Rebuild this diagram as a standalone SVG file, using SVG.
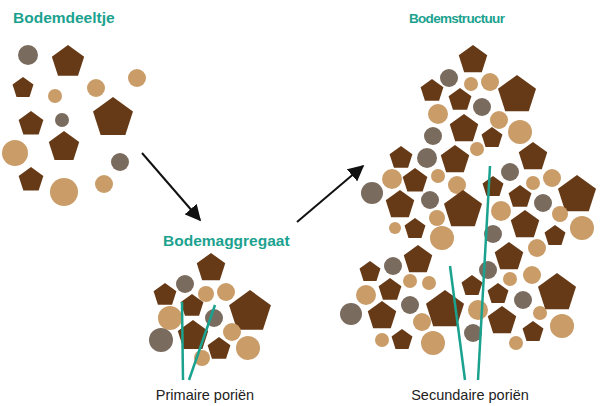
<svg xmlns="http://www.w3.org/2000/svg" xmlns:xlink="http://www.w3.org/1999/xlink" width="600" height="406" viewBox="0 0 600 406">
<style>
.d{fill:#663a16}.t{fill:#c99c68}.g{fill:#7a6b5f}
.h{font-family:"Liberation Sans",Arial,sans-serif;font-weight:bold;fill:#1ba28f}
.l{font-family:"Liberation Sans",Arial,sans-serif;font-size:14.5px;fill:#222;text-anchor:middle}
.p{stroke:#1ba28f;stroke-width:2.5;fill:none}
.a{stroke:#111;stroke-width:2}
</style>
<defs>
<path id="p" class="d" d="M0,-1L0.951,-0.309L0.588,0.809L-0.588,0.809L-0.951,-0.309Z"/>
<marker id="m" viewBox="0 0 10 10" refX="9" refY="5" markerWidth="8" markerHeight="8" orient="auto"><path d="M0,0L10,5L0,10Z" fill="#111"/></marker>
</defs>
<rect width="600" height="406" fill="#fff"/>
<text class="h" x="13" y="23" font-size="15.5">Bodemdeeltje</text>
<text class="h" x="163" y="246" font-size="15.5">Bodemaggregaat</text>
<text class="h" x="409" y="23" font-size="13.5" letter-spacing="-0.7">Bodemstructuur</text>
<text class="l" x="205" y="400">Primaire poriën</text>
<text class="l" x="470" y="400">Secundaire poriën</text>
<g id="connectors">
<line class="a" x1="142" y1="153" x2="200" y2="220" marker-end="url(#m)"/>
<line class="a" x1="297" y1="222" x2="363" y2="166" marker-end="url(#m)"/>
</g>
<g id="deeltjes">
<circle class="g" cx="28" cy="55" r="10"/>
<use href="#p" transform="translate(68,62) scale(17)"/>
<use href="#p" transform="translate(23,88) scale(11)"/>
<circle class="t" cx="55" cy="96" r="7"/>
<circle class="t" cx="96" cy="88" r="9"/>
<circle class="t" cx="137" cy="78" r="9"/>
<use href="#p" transform="translate(113,118) scale(21)"/>
<circle class="g" cx="62" cy="120" r="7"/>
<use href="#p" transform="translate(31,124) scale(13)"/>
<circle class="t" cx="15" cy="153" r="13"/>
<use href="#p" transform="translate(64,147) scale(16)"/>
<circle class="g" cx="120" cy="162" r="9"/>
<use href="#p" transform="translate(31,180) scale(13)"/>
<circle class="t" cx="64" cy="192" r="14"/>
<circle class="t" cx="104" cy="184" r="9"/>
</g>
<g id="aggregaat">
<use href="#p" transform="translate(211,268) scale(15)"/>
<circle class="g" cx="185" cy="284" r="9"/>
<use href="#p" transform="translate(165,295) scale(12)"/>
<circle class="t" cx="206" cy="294" r="8"/>
<circle class="t" cx="226" cy="292" r="9"/>
<use href="#p" transform="translate(192,306) scale(12)"/>
<use href="#p" transform="translate(250,312) scale(22)"/>
<circle class="t" cx="170" cy="318" r="12"/>
<circle class="g" cx="214" cy="318" r="9"/>
<use href="#p" transform="translate(193,336) scale(16)"/>
<circle class="t" cx="232" cy="332" r="9"/>
<circle class="g" cx="161" cy="340" r="12"/>
<use href="#p" transform="translate(219,349) scale(12)"/>
<circle class="t" cx="248" cy="348" r="12"/>
<circle class="t" cx="202" cy="358" r="8"/>
<line class="p" x1="182" y1="302" x2="183" y2="380"/>
<line class="p" x1="215" y1="305" x2="189" y2="380"/>
</g>
<g id="structuur">
<use href="#p" transform="translate(473,60) scale(15)"/>
<circle class="g" cx="449" cy="78" r="9"/>
<circle class="t" cx="471" cy="84" r="7"/>
<circle class="t" cx="490" cy="82" r="9"/>
<use href="#p" transform="translate(432,91) scale(12)"/>
<use href="#p" transform="translate(460,100) scale(12)"/>
<use href="#p" transform="translate(517,95) scale(20)"/>
<circle class="t" cx="438" cy="114" r="10"/>
<circle class="g" cx="482" cy="107" r="9"/>
<circle class="t" cx="499" cy="120" r="9"/>
<use href="#p" transform="translate(464,129) scale(15)"/>
<circle class="t" cx="520" cy="132" r="12"/>
<circle class="g" cx="433" cy="136" r="9"/>
<use href="#p" transform="translate(492,138) scale(11)"/>
<circle class="t" cx="477" cy="149" r="7"/>
<use href="#p" transform="translate(401,158) scale(12)"/>
<circle class="g" cx="427" cy="158" r="10"/>
<use href="#p" transform="translate(455,160) scale(15)"/>
<use href="#p" transform="translate(533,157) scale(15)"/>
<circle class="t" cx="392" cy="179" r="10"/>
<use href="#p" transform="translate(415,181) scale(13)"/>
<circle class="t" cx="438" cy="176" r="7"/>
<circle class="t" cx="457" cy="185" r="9"/>
<circle class="g" cx="510" cy="172" r="9"/>
<circle class="t" cx="533" cy="183" r="7"/>
<circle class="t" cx="552" cy="178" r="9"/>
<use href="#p" transform="translate(493,187) scale(11)"/>
<circle class="g" cx="372" cy="193" r="11"/>
<use href="#p" transform="translate(400,205) scale(15)"/>
<circle class="g" cx="430" cy="200" r="9"/>
<use href="#p" transform="translate(463,210) scale(20)"/>
<use href="#p" transform="translate(520,197) scale(12)"/>
<circle class="g" cx="543" cy="203" r="9"/>
<use href="#p" transform="translate(577,195) scale(20)"/>
<circle class="t" cx="437" cy="218" r="8"/>
<circle class="t" cx="501" cy="211" r="10"/>
<circle class="t" cx="560" cy="214" r="8"/>
<use href="#p" transform="translate(525,225) scale(15)"/>
<circle class="t" cx="395" cy="228" r="6"/>
<use href="#p" transform="translate(415,229) scale(11)"/>
<circle class="t" cx="442" cy="238" r="12"/>
<circle class="g" cx="493" cy="234" r="9"/>
<circle class="t" cx="582" cy="228" r="12"/>
<use href="#p" transform="translate(555,236) scale(11)"/>
<circle class="t" cx="537" cy="248" r="9"/>
<use href="#p" transform="translate(509,257) scale(15)"/>
<use href="#p" transform="translate(418,260) scale(15)"/>
<circle class="g" cx="393" cy="266" r="9"/>
<use href="#p" transform="translate(370,272) scale(11)"/>
<circle class="t" cx="410" cy="281" r="7"/>
<circle class="t" cx="429" cy="283" r="7"/>
<circle class="g" cx="488" cy="270" r="9"/>
<circle class="t" cx="510" cy="279" r="7"/>
<circle class="t" cx="532" cy="275" r="9"/>
<use href="#p" transform="translate(390,290) scale(12)"/>
<circle class="t" cx="366" cy="295" r="10"/>
<use href="#p" transform="translate(472,286) scale(11)"/>
<use href="#p" transform="translate(498,294) scale(11)"/>
<use href="#p" transform="translate(557,293) scale(20)"/>
<circle class="g" cx="410" cy="305" r="9"/>
<circle class="g" cx="523" cy="300" r="9"/>
<use href="#p" transform="translate(445,310) scale(20)"/>
<circle class="t" cx="478" cy="310" r="10"/>
<circle class="g" cx="351" cy="314" r="11"/>
<use href="#p" transform="translate(382,316) scale(15)"/>
<circle class="t" cx="422" cy="322" r="9"/>
<circle class="t" cx="540" cy="313" r="7"/>
<use href="#p" transform="translate(502,321) scale(15)"/>
<circle class="t" cx="562" cy="326" r="12"/>
<circle class="g" cx="473" cy="333" r="9"/>
<use href="#p" transform="translate(533,332) scale(11)"/>
<circle class="t" cx="382" cy="340" r="7"/>
<use href="#p" transform="translate(402,340) scale(11)"/>
<circle class="t" cx="433" cy="343" r="12"/>
<circle class="t" cx="516" cy="343" r="7"/>
<line class="p" x1="490" y1="166" x2="478" y2="380"/>
<line class="p" x1="450" y1="266" x2="465" y2="380"/>
</g>
</svg>
